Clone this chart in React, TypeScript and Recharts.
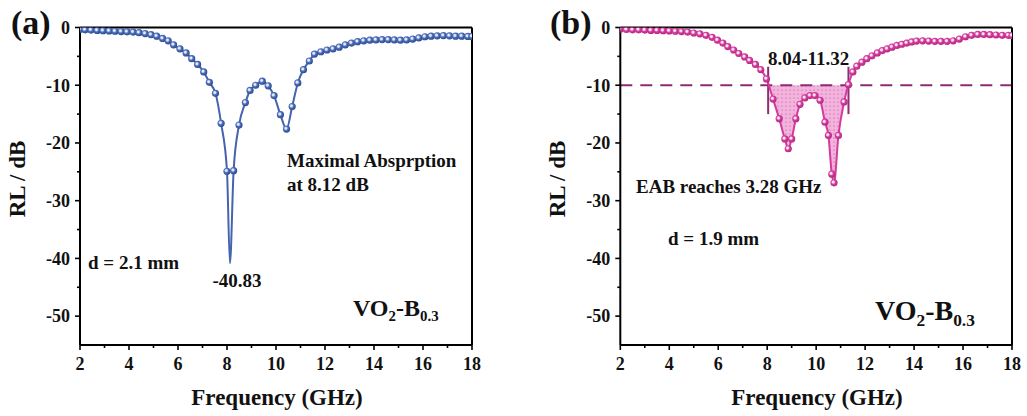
import React from "react";
import {
  ComposedChart,
  Line,
  Area,
  XAxis,
  YAxis,
  ReferenceLine,
  ReferenceDot,
} from "recharts";

const FONT = '"Liberation Serif", "Times New Roman", serif';

// (a) d = 2.1 mm
const freqA = [
  2.0, 2.21, 2.45, 2.7, 2.94, 3.19, 3.43, 3.68, 3.92, 4.17, 4.41, 4.66, 4.9,
  5.13, 5.37, 5.6, 5.82, 6.08, 6.33, 6.56, 6.8, 7.05, 7.28, 7.53, 7.76, 8.0,
  8.12, 8.27, 8.49, 8.75, 8.94, 9.17, 9.44, 9.68, 9.92, 10.18, 10.43, 10.66,
  10.89, 11.12, 11.36, 11.57, 11.83, 12.08, 12.33, 12.58, 12.83, 13.08, 13.33,
  13.58, 13.83, 14.08, 14.33, 14.58, 14.83, 15.08, 15.33, 15.58, 15.83, 16.08,
  16.33, 16.58, 16.83, 17.08, 17.33, 17.58, 17.83, 18.0,
];
const rlA = [
  -0.35, -0.4, -0.45, -0.5, -0.55, -0.6, -0.65, -0.7, -0.75, -0.8, -0.9, -1.05,
  -1.25, -1.5, -1.9, -2.3, -3.0, -3.7, -4.4, -5.4, -6.4, -7.7, -9.5, -11.4,
  -16.6, -24.9, -40.83, -24.8, -16.9, -13.0, -10.9, -10.0, -9.3, -10.1, -11.8,
  -15.1, -17.6, -13.7, -9.6, -7.3, -5.8, -4.6, -4.2, -3.9, -3.7, -3.4, -3.0,
  -2.7, -2.45, -2.3, -2.2, -2.15, -2.1, -2.1, -2.15, -2.2, -2.15, -2.0, -1.8,
  -1.6, -1.5, -1.45, -1.4, -1.45, -1.5, -1.5, -1.55, -1.55,
];

// (b) d = 1.9 mm
const freqB = [
  2.0, 2.25, 2.5, 2.75, 3.0, 3.25, 3.5, 3.75, 4.0, 4.25, 4.5, 4.75, 5.0, 5.25,
  5.5, 5.75, 5.97, 6.19, 6.39, 6.63, 6.84, 7.08, 7.28, 7.52, 7.74, 7.97, 8.24,
  8.49, 8.72, 8.86, 9.0, 9.17, 9.34, 9.54, 9.75, 9.95, 10.16, 10.36, 10.5,
  10.64, 10.73, 10.91, 11.14, 11.32, 11.5, 11.66, 11.87, 12.07, 12.28, 12.5,
  12.7, 12.9, 13.1, 13.3, 13.5, 13.7, 13.9, 14.1, 14.35, 14.6, 14.85, 15.1,
  15.35, 15.6, 15.85, 16.1, 16.35, 16.6, 16.85, 17.1, 17.35, 17.6, 17.85, 18.0,
];
const rlB = [
  -0.3, -0.35, -0.4, -0.4, -0.45, -0.5, -0.5, -0.55, -0.6, -0.65, -0.7, -0.8,
  -0.95, -1.1, -1.35, -1.7, -2.2, -2.7, -3.3, -3.9, -4.5, -5.1, -5.7, -6.4,
  -7.3, -8.9, -12.4, -15.8, -19.3, -21.0, -19.3, -15.8, -13.3, -12.2, -11.8,
  -11.8, -12.6, -16.4, -18.7, -25.4, -26.9, -18.7, -12.9, -9.9, -7.7, -6.7,
  -6.0, -5.4, -4.9, -4.4, -4.0, -3.7, -3.4, -3.1, -2.9, -2.7, -2.5, -2.35,
  -2.3, -2.35, -2.4, -2.4, -2.4, -2.3, -2.0, -1.6, -1.35, -1.2, -1.2, -1.25,
  -1.3, -1.35, -1.35, -1.4,
];

const peakA = { f: 8.12, rl: -40.83 };
const eabRange = [8.04, 11.32];
const eabLevel = -10;

const xTicks = [2, 3, 4, 5, 6, 7, 8, 9, 10, 11, 12, 13, 14, 15, 16, 17, 18];
const yTicks = [-50, -45, -40, -35, -30, -25, -20, -15, -10, -5, 0];

const dataA = freqA.map((f, i) => ({ f, rl: rlA[i] }));
const dataB = freqB.map((f, i) => ({ f, rl: rlB[i] }));
const eabData = [
  { f: eabRange[0], rl: eabLevel },
  ...dataB.filter((d) => d.f > eabRange[0] && d.f < eabRange[1]),
  { f: eabRange[1], rl: eabLevel },
];

const TICK_SIZE = 4;
const X_GAP = 8.5;
const Y_GAP = 6;

const XTick = (props: any) => {
  const { x, y, payload } = props;
  const v = payload.value;
  const major = v % 2 === 0;
  const axisY = y - TICK_SIZE - X_GAP;
  return (
    <g>
      <line x1={x} x2={x} y1={axisY} y2={axisY + (major ? 5 : 3)} stroke="#000" strokeWidth={1.6} />
      {major && (
        <text x={x} y={y} dy="0.71em" textAnchor="middle" fontFamily={FONT} fontWeight="bold" fontSize={18} fill="#111">
          {v}
        </text>
      )}
    </g>
  );
};

const YTick = (props: any) => {
  const { x, y, payload } = props;
  const v = payload.value;
  const major = v % 10 === 0;
  const axisX = x + TICK_SIZE + Y_GAP;
  return (
    <g>
      <line x1={axisX} x2={axisX - (major ? 5 : 3)} y1={y} y2={y} stroke="#000" strokeWidth={1.6} />
      {major && (
        <text x={x} y={y} dy="0.35em" textAnchor="end" fontFamily={FONT} fontWeight="bold" fontSize={18} fill="#111">
          {v}
        </text>
      )}
    </g>
  );
};

// shaded ball markers, skipping the point at skipF (sharp minimum)
const makeDot = (gradId: string, skipF?: number) => (p: any) => {
  const { cx, cy, payload, index } = p;
  if (skipF !== undefined && payload.f === skipF) return <g key={`d${index}`} />;
  return <circle key={`d${index}`} cx={cx} cy={cy} r={3.6} fill={`url(#${gradId})`} />;
};

const ball = (id: string, light: string, mid: string, dark: string) => (
  <radialGradient id={id} cx="40%" cy="40%" r="60%">
    <stop offset="0%" stopColor={light} />
    <stop offset="20%" stopColor={light} />
    <stop offset="50%" stopColor={mid} />
    <stop offset="100%" stopColor={dark} />
  </radialGradient>
);

const axes = (
  <>
    <XAxis
      dataKey="f"
      type="number"
      domain={[2, 18]}
      ticks={xTicks}
      interval={0}
      height={30}
      tickSize={TICK_SIZE}
      tickMargin={X_GAP}
      tickLine={false}
      tick={<XTick />}
      axisLine={{ stroke: "#000", strokeWidth: 2 }}
      allowDataOverflow
    />
    <YAxis
      type="number"
      domain={[-55, 0]}
      ticks={yTicks}
      interval={0}
      width={60}
      tickSize={TICK_SIZE}
      tickMargin={Y_GAP}
      tickLine={false}
      tick={<YTick />}
      axisLine={{ stroke: "#000", strokeWidth: 2 }}
      allowDataOverflow
    />
  </>
);

const textStyle = { fontFamily: FONT, fontWeight: 700, fill: "#111" } as const;

const Formula = ({ x, y, size }: { x: number; y: number; size: number }) => (
  <text x={x} y={y} fontSize={size} {...textStyle}>
    <tspan>VO</tspan>
    <tspan fontSize={size * 0.62} dy={size * 0.2}>2</tspan>
    <tspan dy={-size * 0.2}>-B</tspan>
    <tspan fontSize={size * 0.62} dy={size * 0.2}>0.3</tspan>
  </text>
);

export default function App() {
  return (
    <div style={{ position: "fixed", left: 0, top: 0, width: 1027, height: 416, background: "#fff", overflow: "hidden" }}>
      <div style={{ position: "absolute", left: 0, top: 0 }}>
        <ComposedChart width={512} height={416} data={dataA} margin={{ top: 27.5, right: 40, bottom: 41, left: 20 }}>
          <defs>{ball("ballA", "#e3eafb", "#4f6fb8", "#2c4a94")}</defs>
          {axes}
          <ReferenceLine y={0} stroke="#000" strokeWidth={2} />
          <ReferenceLine x={18} stroke="#000" strokeWidth={2} />
          <Line
            dataKey="rl"
            type="monotone"
            stroke="#4464ad"
            strokeWidth={2}
            dot={makeDot("ballA", peakA.f)}
            activeDot={false}
            isAnimationActive={false}
          />
          <ReferenceDot
            x={peakA.f}
            y={peakA.rl}
            r={0}
            fill="none"
            stroke="none"
            label={(p: any) => (
              <text x={p.viewBox.x + 7} y={p.viewBox.y + 24} textAnchor="middle" fontSize={19} {...textStyle}>
                {peakA.rl.toFixed(2)}
              </text>
            )}
          />
        </ComposedChart>
      </div>

      <div style={{ position: "absolute", left: 512, top: 0 }}>
        <ComposedChart width={515} height={416} data={dataB} margin={{ top: 27.5, right: 15, bottom: 41, left: 48.3 }}>
          <defs>
            {ball("ballB", "#fde8f6", "#d43f9f", "#b8267f")}
            <pattern id="eabDots" width="4" height="4" patternUnits="userSpaceOnUse">
              <rect width="4" height="4" fill="#f2b3dc" />
              <circle cx="2" cy="2" r="0.6" fill="#c8449c" />
            </pattern>
          </defs>
          {axes}
          <Area
            data={eabData}
            dataKey="rl"
            type="monotone"
            baseValue={eabLevel}
            fill="url(#eabDots)"
            fillOpacity={1}
            stroke="none"
            dot={false}
            activeDot={false}
            isAnimationActive={false}
          />
          <ReferenceLine y={eabLevel} stroke="#8f2a75" strokeWidth={2.2} strokeDasharray="12 8" />
          <ReferenceLine
            segment={[{ x: eabRange[0], y: -6.8 }, { x: eabRange[0], y: -15 }]}
            stroke="#8f2a75"
            strokeWidth={2}
          />
          <ReferenceLine
            segment={[{ x: eabRange[1], y: -6.8 }, { x: eabRange[1], y: -15 }]}
            stroke="#8f2a75"
            strokeWidth={2}
          />
          <ReferenceLine y={0} stroke="#000" strokeWidth={2} />
          <ReferenceLine x={18} stroke="#000" strokeWidth={2} />
          <Line
            dataKey="rl"
            type="monotone"
            stroke="#d43b9d"
            strokeWidth={2}
            dot={makeDot("ballB")}
            activeDot={false}
            isAnimationActive={false}
          />
        </ComposedChart>
      </div>

      <svg width={1027} height={416} style={{ position: "absolute", left: 0, top: 0, pointerEvents: "none" }}>
        <text x={11} y={34} fontSize={34} {...textStyle}>(a)</text>
        <text x={550} y={34} fontSize={34} {...textStyle}>(b)</text>

        <text transform="translate(25,179) rotate(-90)" textAnchor="middle" fontSize={23} {...textStyle}>RL / dB</text>
        <text transform="translate(565,179) rotate(-90)" textAnchor="middle" fontSize={23} {...textStyle}>RL / dB</text>
        <text x={277} y={405} textAnchor="middle" fontSize={23} {...textStyle}>Frequency (GHz)</text>
        <text x={817} y={405} textAnchor="middle" fontSize={23} {...textStyle}>Frequency (GHz)</text>

        <text x={287} y={167} fontSize={19} {...textStyle}>Maximal Absprption</text>
        <text x={287} y={191} fontSize={19} {...textStyle}>at 8.12 dB</text>
        <text x={88} y={268.5} fontSize={19} {...textStyle}>d = 2.1 mm</text>
        <Formula x={353} y={316} size={24} />

        <text x={768} y={64.5} fontSize={19} {...textStyle}>
          {eabRange[0].toFixed(2)}-{eabRange[1].toFixed(2)}
        </text>
        <text x={636} y={193.3} fontSize={19} {...textStyle}>EAB reaches 3.28 GHz</text>
        <text x={668} y={245} fontSize={19} {...textStyle}>d = 1.9 mm</text>
        <Formula x={875} y={320} size={28} />
      </svg>
    </div>
  );
}
